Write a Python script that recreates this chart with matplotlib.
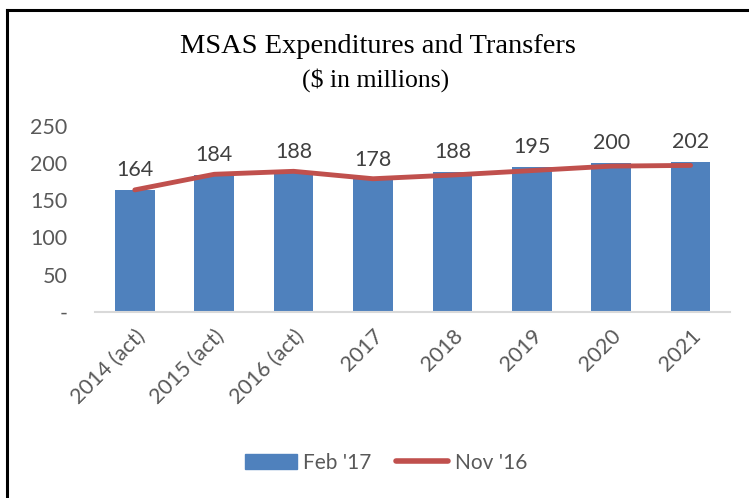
import matplotlib.pyplot as plt
from matplotlib.lines import Line2D

years = ['2014 (act)', '2015 (act)', '2016 (act)', '2017', '2018', '2019', '2020', '2021']
feb17 = [164, 184, 188, 178, 188, 195, 200, 202]
nov16 = [164, 185, 189, 179, 184, 190, 196, 197]
yticks = [0, 50, 100, 150, 200, 250]
ytick_labels = ['-', '50', '100', '150', '200', '250']

blue = '#4F81BD'
red = '#C0504D'
grey = '#595959'

fig = plt.figure(figsize=(7.49, 4.98), dpi=100)
ax = fig.add_axes([0.127, 0.374, 0.848, 0.373])

x = range(len(years))
ax.bar(x, feb17, width=0.5, color=blue, label="Feb '17", zorder=2)
ax.plot(x, nov16, color=red, lw=3.5, solid_capstyle='round', label="Nov '16", zorder=3)

# data labels above bars
for i, v in enumerate(feb17):
    ax.annotate(str(v), (i, v), textcoords='offset points', xytext=(0, 7),
                ha='center', va='bottom', fontsize=15.5, color='#404040', family='Lato')

ax.set_xlim(-0.5, len(years) - 0.5)
ax.set_ylim(0, 250)
ax.set_yticks(yticks)
ax.set_yticklabels(ytick_labels, fontsize=15.5, color=grey, family='Lato')
ax.set_xticks(list(x))
ax.set_xticklabels(years, rotation=45, ha='right', rotation_mode='anchor',
                   fontsize=15.5, color=grey, family='Lato')
ax.tick_params(axis='y', length=0, pad=20)
ax.tick_params(axis='x', length=0, pad=10)
for s in ['top', 'right', 'left']:
    ax.spines[s].set_visible(False)
ax.spines['bottom'].set_color('#D9D9D9')
ax.spines['bottom'].set_linewidth(1.5)

fig.text(0.505, 0.906, 'MSAS Expenditures and Transfers', ha='center', va='center',
         fontsize=20.5, family='Liberation Serif')
fig.text(0.502, 0.84, '($ in millions)', ha='center', va='center',
         fontsize=18.5, family='Liberation Serif')

handles = [plt.Rectangle((0, 0), 1, 1, color=blue),
           Line2D([0], [0], color=red, lw=4, solid_capstyle='round')]
fig.legend(handles, ["Feb '17", "Nov '16"], loc='center', bbox_to_anchor=(0.515, 0.071),
           ncol=2, frameon=False, prop={'family': 'Lato', 'size': 15},
           handlelength=2.5, columnspacing=1.2, handletextpad=0.3, labelcolor=grey)

# frame around the figure (left and top edges visible)
fig.add_artist(Line2D([0.009, 0.009], [0, 0.98], color='black', lw=2.2, transform=fig.transFigure))
fig.add_artist(Line2D([0.009, 1.0], [0.98, 0.98], color='black', lw=2.2, transform=fig.transFigure))

fig.savefig('out.png', dpi=100)
